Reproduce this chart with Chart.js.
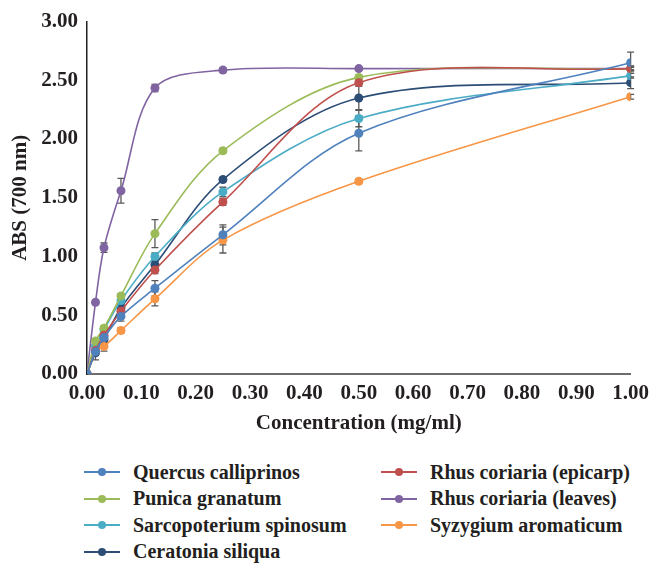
<!DOCTYPE html>
<html>
<head>
<meta charset="utf-8">
<script src="https://cdn.jsdelivr.net/npm/chart.js@4"></script>
<style>
  html, body { margin: 0; padding: 0; background: #fff; }
  #wrap { position: relative; width: 656px; height: 565px; }
  #c { position: absolute; left: 0; top: 0; }
  #legend { position: absolute; left: 84px; top: 460.5px; display: grid; grid-template-columns: 297px 275px; row-gap: 3.6px;
    font-family: "Liberation Serif", "Times New Roman", serif; font-weight: bold; font-size: 20px; color: #231f20; }
  .item { display: flex; align-items: center; height: 23px; white-space: nowrap; }
  .sw { position: relative; width: 36px; height: 12px; margin-right: 13px; flex: none; }
  .sw .ln { position: absolute; left: 0; right: 0; top: 5px; height: 2px; }
  .sw .dt { position: absolute; left: 14px; top: 2px; width: 8px; height: 8px; border-radius: 50%; }
</style>
</head>
<body>
<div id="wrap">
  <canvas id="c" width="656" height="440"></canvas>
  <div id="legend"></div>
</div>
<script>
// Concentrations (mg/ml)
const concentrations = [0, 0.015625, 0.03125, 0.0625, 0.125, 0.25, 0.5, 1.0];

// Series (order as in the original legend, row-wise)
const seriesNames = [
  "Quercus calliprinos",
  "Rhus coriaria (epicarp)",
  "Punica granatum",
  "Rhus coriaria (leaves)",
  "Sarcopoterium spinosum",
  "Syzygium aromaticum",
  "Ceratonia siliqua"
];
const seriesColors = ["#4f81bd", "#c0504d", "#9bbb59", "#8064a2", "#4bacc6", "#f79646", "#2c4d75"];

const quercus      = [0, 0.19, 0.31, 0.49, 0.73, 1.185, 2.05, 2.65];
const rhusEpicarp  = [0, 0.20, 0.33, 0.535, 0.885, 1.465, 2.48, 2.60];
const punica       = [0, 0.28, 0.39, 0.665, 1.195, 1.90, 2.525, 2.60];
const rhusLeaves   = [0, 0.61, 1.075, 1.56, 2.435, 2.587, 2.60, 2.60];
const sarcopoterium= [0, 0.24, 0.375, 0.625, 1.00, 1.55, 2.175, 2.54];
const syzygium     = [0, 0.20, 0.235, 0.37, 0.64, 1.14, 1.64, 2.36];
const ceratonia    = [0, 0.18, 0.293, 0.564, 0.93, 1.655, 2.35, 2.48];

// Standard deviations (error bars)
const quercusErr      = [0, 0.03, 0.03, 0.04, 0.065, 0.085, 0.15, 0.09];
const rhusEpicarpErr  = [0, 0.02, 0.02, 0.03, 0.03, 0.03, 0.03, 0.02];
const punicaErr       = [0, 0.02, 0.02, 0.02, 0.12, 0.02, 0.02, 0.02];
const rhusLeavesErr   = [0, 0.02, 0.04, 0.105, 0.03, 0.02, 0.01, 0.01];
const sarcopoteriumErr= [0, 0.02, 0.02, 0.03, 0.03, 0.04, 0.07, 0.02];
const syzygiumErr     = [0, 0.02, 0.04, 0.02, 0.06, 0.11, 0.02, 0.02];
const ceratoniaErr    = [0, 0.06, 0.03, 0.03, 0.03, 0.02, 0.10, 0.05];

const seriesValues = [quercus, rhusEpicarp, punica, rhusLeaves, sarcopoterium, syzygium, ceratonia];
const seriesErrors = [quercusErr, rhusEpicarpErr, punicaErr, rhusLeavesErr, sarcopoteriumErr, syzygiumErr, ceratoniaErr];

const xTickLabels = ["0.00","0.10","0.20","0.30","0.40","0.50","0.60","0.70","0.80","0.90","1.00"];
const yTickLabels = ["0.00","0.50","1.00","1.50","2.00","2.50","3.00"];

const FONT = "'Liberation Serif', 'Times New Roman', serif";
const TEXT = "#231f20";

const datasets = seriesNames.map((name, i) => ({
  label: name,
  data: concentrations.map((x, j) => ({ x: x, y: seriesValues[i][j] })),
  errors: seriesErrors[i],
  borderColor: seriesColors[i],
  backgroundColor: seriesColors[i],
  pointBackgroundColor: seriesColors[i],
  pointBorderColor: seriesColors[i],
  pointRadius: 4.5,
  pointBorderWidth: 0,
  borderWidth: 1.6,
  tension: 0.33,
  fill: false
}));

const errorBars = {
  id: 'errorBars',
  beforeDatasetsDraw(chart) {
    const ctx = chart.ctx;
    const xs = chart.scales.x, ys = chart.scales.y;
    ctx.save();
    ctx.strokeStyle = "#595959";
    ctx.lineWidth = 1.3;
    chart.data.datasets.forEach(ds => {
      ds.data.forEach((p, j) => {
        const e = ds.errors[j];
        if (!e) return;
        const px = xs.getPixelForValue(p.x);
        const y1 = ys.getPixelForValue(p.y - e);
        const y2 = ys.getPixelForValue(p.y + e);
        ctx.beginPath();
        ctx.moveTo(px, y1); ctx.lineTo(px, y2);
        ctx.moveTo(px - 3.5, y1); ctx.lineTo(px + 3.5, y1);
        ctx.moveTo(px - 3.5, y2); ctx.lineTo(px + 3.5, y2);
        ctx.stroke();
      });
    });
    ctx.restore();
  }
};

new Chart(document.getElementById('c'), {
  type: 'line',
  data: { datasets },
  plugins: [errorBars],
  options: {
    responsive: false,
    animation: false,
    layout: { padding: { top: 16, right: 19, left: 0, bottom: 0 } },
    plugins: { legend: { display: false }, tooltip: { enabled: false } },
    scales: {
      x: {
        type: 'linear', min: 0, max: 1,
        afterFit(s) { s.height = 66; },
        afterBuildTicks(s) { s.ticks = xTickLabels.map(t => ({ value: parseFloat(t) })); },
        ticks: { callback: (v, i) => xTickLabels[i], color: TEXT, padding: 7,
                 font: { family: FONT, weight: 'bold', size: 21 }, maxRotation: 0, autoSkip: false },
        grid: { display: false, drawTicks: false },
        border: { display: true, color: "#6d6d6d", width: 2 },
        title: { display: true, text: "Concentration (mg/ml)", color: TEXT,
                 font: { family: FONT, weight: 'bold', size: 21 }, padding: { top: 0, bottom: 4 } }
      },
      y: {
        type: 'linear', min: 0, max: 3,
        afterFit(s) { s.width = 87; },
        afterBuildTicks(s) { s.ticks = yTickLabels.map(t => ({ value: parseFloat(t) })); },
        ticks: { callback: (v, i) => yTickLabels[i], color: TEXT, padding: 9,
                 font: { family: FONT, weight: 'bold', size: 21 } },
        grid: { display: false, drawTicks: false },
        border: { display: true, color: "#231f20", width: 1.5 },
        title: { display: true, text: "ABS (700 nm)", color: TEXT,
                 font: { family: FONT, weight: 'bold', size: 21 }, padding: { top: 8, bottom: 0 } }
      }
    }
  }
});

// HTML legend built from the series arrays
const lg = document.getElementById('legend');
seriesNames.forEach((name, i) => {
  const it = document.createElement('div'); it.className = 'item';
  const sw = document.createElement('span'); sw.className = 'sw';
  const ln = document.createElement('span'); ln.className = 'ln'; ln.style.background = seriesColors[i];
  const dt = document.createElement('span'); dt.className = 'dt'; dt.style.background = seriesColors[i];
  sw.appendChild(ln); sw.appendChild(dt);
  const tx = document.createElement('span'); tx.textContent = name;
  it.appendChild(sw); it.appendChild(tx);
  lg.appendChild(it);
});
</script>
</body>
</html>
